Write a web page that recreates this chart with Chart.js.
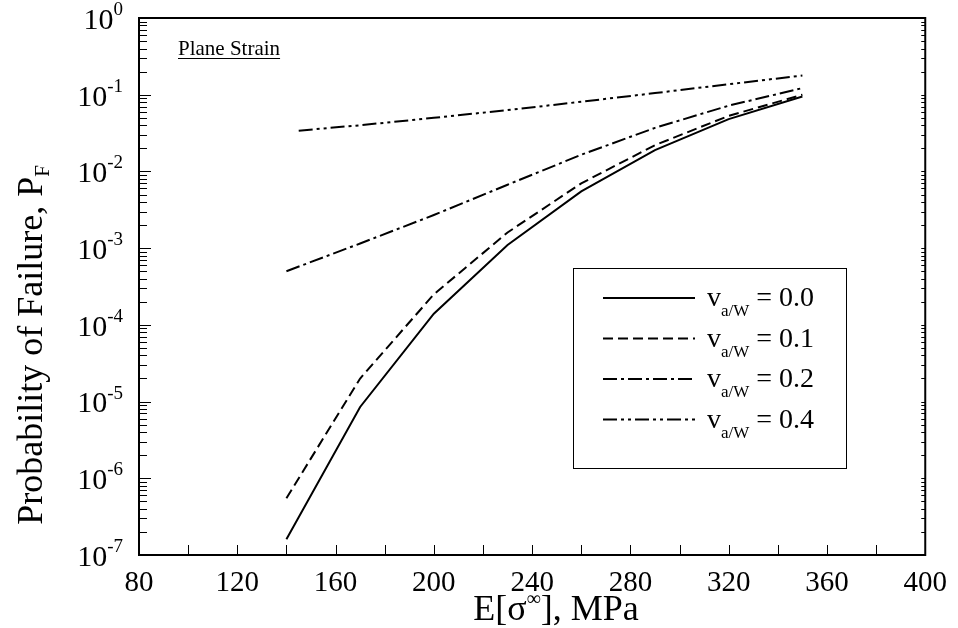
<!DOCTYPE html>
<html>
<head>
<meta charset="utf-8">
<script src="https://cdn.jsdelivr.net/npm/chart.js@4/dist/chart.umd.min.js"></script>
<style>
  html, body { margin: 0; padding: 0; background: #fff; }
  #wrap { width: 958px; height: 628px; }
</style>
</head>
<body>
<div id="wrap"><canvas id="chart"></canvas></div>
<script>
// E[sigma], MPa
const stressX = [140, 170, 200, 230, 260, 290, 320, 350];
const stressX04 = [145, 170, 200, 230, 260, 290, 320, 350];

// probability of failure for each v_a/W
const pf00 = [1.6e-7, 8.5e-6, 1.4e-4, 1.1e-3, 5.5e-3, 1.9e-2, 4.8e-2, 9.5e-2];
const pf01 = [5.5e-7, 2.0e-5, 2.5e-4, 1.6e-3, 7.0e-3, 2.2e-2, 5.3e-2, 1.0e-1];
const pf02 = [5.0e-4, 1.15e-3, 2.7e-3, 6.7e-3, 1.65e-2, 3.7e-2, 7.2e-2, 1.22e-1];
const pf04 = [3.4e-2, 4.0e-2, 5.0e-2, 6.3e-2, 8.1e-2, 1.05e-1, 1.37e-1, 1.78e-1];

const seriesNames = ["0.0", "0.1", "0.2", "0.4"];
const dashes = [[], [10, 5], [14, 4, 3, 4], [14, 4, 3, 4, 3, 4]];

const yDecades = [0, -1, -2, -3, -4, -5, -6, -7];
const xTickLabels = [80, 120, 160, 200, 240, 280, 320, 360, 400];

const SERIF = "'Liberation Serif', 'DejaVu Serif', serif";

function pts(xs, ys) {
  return xs.map((x, i) => ({ x: x, y: ys[i] }));
}

function ds(data, k) {
  return {
    label: seriesNames[k],
    data: data,
    borderColor: "#000",
    borderWidth: 2,
    borderDash: dashes[k],
    pointRadius: 0,
    tension: 0,
    fill: false
  };
}

// draw a run of text pieces (for super/subscripts)
function drawParts(ctx, x, y, parts) {
  parts.forEach(p => {
    ctx.font = p.size + "px " + SERIF;
    ctx.fillText(p.t, x, y + (p.dy || 0));
    x += ctx.measureText(p.t).width;
  });
  return x;
}
function partsWidth(ctx, parts) {
  let w = 0;
  parts.forEach(p => {
    ctx.font = p.size + "px " + SERIF;
    w += ctx.measureText(p.t).width;
  });
  return w;
}

const decor = {
  id: "decor",
  afterDraw(chart) {
    const ctx = chart.ctx;
    const a = chart.chartArea;
    const xs = chart.scales.x;
    const ys = chart.scales.y;
    ctx.save();
    ctx.fillStyle = "#000";
    ctx.strokeStyle = "#000";

    // frame
    ctx.lineWidth = 2;
    ctx.strokeRect(a.left, a.top, a.right - a.left, a.bottom - a.top);

    // x ticks, inward, every 20
    ctx.lineWidth = 1;
    ctx.beginPath();
    for (let v = 100; v < 400; v += 20) {
      const px = Math.round(xs.getPixelForValue(v)) + 0.5;
      ctx.moveTo(px, a.bottom);
      ctx.lineTo(px, a.bottom - 10);
    }
    // y ticks, inward, log minors
    for (let d = -7; d <= 0; d++) {
      for (let m = 1; m <= 9; m++) {
        const v = m * Math.pow(10, d);
        if (v > 1) break;
        const py = Math.round(ys.getPixelForValue(v)) + 0.5;
        const len = m === 1 ? 12 : 8;
        ctx.moveTo(a.left, py);
        ctx.lineTo(a.left + len, py);
        ctx.moveTo(a.right, py);
        ctx.lineTo(a.right - 4, py);
      }
    }
    ctx.stroke();

    // y tick labels 10^n
    ctx.textBaseline = "middle";
    ctx.textAlign = "left";
    yDecades.forEach(n => {
      const py = ys.getPixelForValue(Math.pow(10, n));
      const parts = [{ t: "10", size: 30 }, { t: String(n), size: 19, dy: -11 }];
      const w = partsWidth(ctx, parts);
      drawParts(ctx, a.left - 16 - w, py + 3, parts);
    });

    // x axis title
    ctx.textBaseline = "alphabetic";
    const xt = [{ t: "E[\u03c3", size: 36 }, { t: "\u221e", size: 20, dy: -15 }, { t: "], MPa", size: 36 }];
    const xw = partsWidth(ctx, xt);
    drawParts(ctx, 556 - xw / 2, 620, xt);

    // y axis title, rotated
    ctx.save();
    ctx.translate(34, 345);
    ctx.rotate(-Math.PI / 2);
    const yt = [{ t: "Probability of Failure, P", size: 36 }, { t: "F", size: 21, dy: 7 }];
    const yw = partsWidth(ctx, yt);
    drawParts(ctx, -yw / 2, 8, yt);
    ctx.restore();

    // Plane Strain label
    ctx.font = "21px " + SERIF;
    const lbl = "Plane Strain";
    const lx = a.left + 39, ly = 55;
    ctx.fillText(lbl, lx, ly);
    const lw = ctx.measureText(lbl).width;
    ctx.lineWidth = 1;
    ctx.beginPath();
    ctx.moveTo(lx, ly + 3.5);
    ctx.lineTo(lx + lw, ly + 3.5);
    ctx.stroke();

    // legend box
    const bx = 573, by = 268, bw = 273, bh = 200;
    ctx.fillStyle = "#fff";
    ctx.fillRect(bx, by, bw, bh);
    ctx.fillStyle = "#000";
    ctx.lineWidth = 1;
    ctx.strokeRect(bx + 0.5, by + 0.5, bw, bh);
    chart.data.datasets.forEach((d, i) => {
      const ry = by + 30 + i * 40.5;
      ctx.setLineDash(d.borderDash);
      ctx.lineWidth = 2;
      ctx.beginPath();
      ctx.moveTo(bx + 30, ry);
      ctx.lineTo(bx + 122, ry);
      ctx.stroke();
      ctx.setLineDash([]);
      const parts = [
        { t: "v", size: 28 },
        { t: "a/W", size: 17, dy: 10 },
        { t: " = " + d.label, size: 28 }
      ];
      drawParts(ctx, bx + 134, ry + 8, parts);
    });

    ctx.restore();
  }
};

new Chart(document.getElementById("chart"), {
  type: "line",
  data: {
    datasets: [
      ds(pts(stressX, pf00), 0),
      ds(pts(stressX, pf01), 1),
      ds(pts(stressX, pf02), 2),
      ds(pts(stressX04, pf04), 3)
    ]
  },
  options: {
    responsive: true,
    maintainAspectRatio: false,
    animation: false,
    layout: { padding: { top: 18, right: 25, left: 0, bottom: 0 } },
    plugins: {
      legend: { display: false },
      tooltip: { enabled: false }
    },
    scales: {
      x: {
        type: "linear",
        min: 80,
        max: 400,
        grid: { display: false, drawTicks: false },
        border: { display: false },
        ticks: {
          stepSize: 40,
          padding: 11,
          color: "#000",
          font: { family: SERIF, size: 29 },
          callback: v => (xTickLabels.includes(v) ? String(v) : "")
        },
        afterFit: s => { s.height = 73; }
      },
      y: {
        type: "logarithmic",
        min: 1e-7,
        max: 1,
        grid: { display: false, drawTicks: false },
        border: { display: false },
        ticks: { display: false },
        afterFit: s => { s.width = 139; }
      }
    }
  },
  plugins: [decor]
});
</script>
</body>
</html>
